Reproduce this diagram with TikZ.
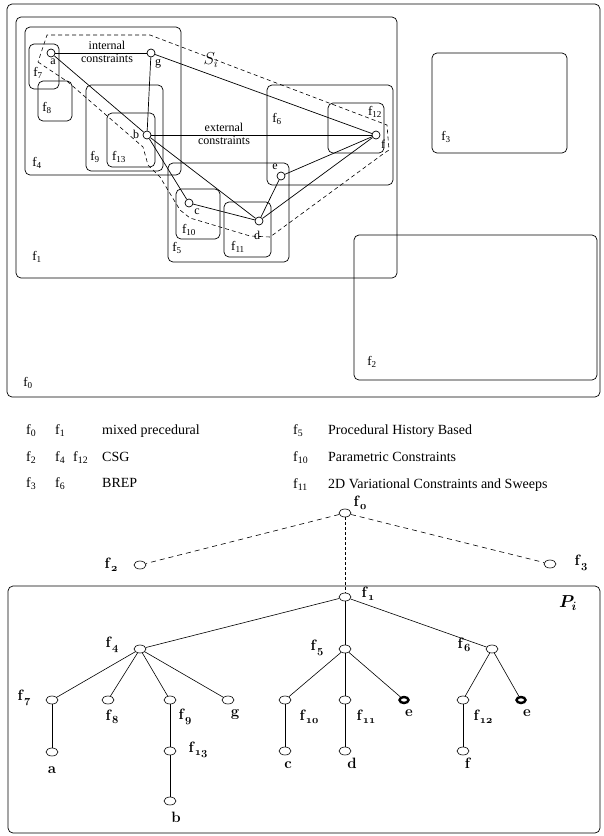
\documentclass[tikz,border=0pt]{standalone}
\usepackage{fontspec}
\newfontfamily\tms{Liberation Serif}
\usepackage{amsmath}
\usetikzlibrary{shapes.geometric}
\newcommand\fc[1]{f\textsubscript{#1}}
\newcommand\tf[1]{\textbf{f}\raisebox{-0.45ex}{\fontsize{11}{11}\usefont{OML}{cmm}{b}{it}#1}}

\begin{document}
\begin{tikzpicture}[
  x=1pt, y=-1pt,
  face/.style={draw, rounded corners=5pt, line width=0.7pt},
  flab/.style={font=\tms\fontsize{13}{15}\selectfont, inner sep=0pt},
  plab/.style={font=\tms\fontsize{12}{14}\selectfont, inner sep=0pt},
  vtx/.style={circle, draw, fill=white, minimum size=8pt, inner sep=0pt, line width=0.7pt},
  con/.style={line width=0.7pt},
  region/.style={dashed, dash pattern=on 4pt off 3pt, line width=0.6pt},
  tn/.style={ellipse, draw, fill=white, minimum width=12pt, minimum height=8pt, inner sep=0pt, line width=0.6pt},
  tsel/.style={ellipse, draw, fill=white, minimum width=9pt, minimum height=6pt, inner sep=0pt, line width=2.4pt},
  tlab/.style={font=\fontsize{15}{17}\selectfont, inner sep=0pt},
  tedge/.style={line width=0.6pt},
  opt/.style={line width=0.6pt, dash pattern=on 5pt off 4pt},
  leg/.style={font=\tms\fontsize{14}{16}\selectfont, anchor=base west, inner sep=0pt}
]
\useasboundingbox (0,0) rectangle (603,836);

% faces of the part
\draw[face] (7,4) rectangle (600,397);
\draw[face] (16,17) rectangle (397,278);
\draw[face] (25,27) rectangle (181,175);
\draw[face] (29,44) rectangle (59,89);
\draw[face] (38,81) rectangle (72,121);
\draw[face] (86,85) rectangle (163,171);
\draw[face] (107,113) rectangle (155,167);
\draw[face] (168,163) rectangle (289,262);
\draw[face] (176,189) rectangle (220,239);
\draw[face] (224,202) rectangle (271,257);
\draw[face] (267,85) rectangle (393,185);
\draw[face] (328,103) rectangle (384,153);
\draw[face] (432,53) rectangle (567,153);
\draw[face] (354,235) rectangle (597,380);

\node[flab] (l0) at (28,383) {\fc{0}};
\node[flab] (l1) at (37,257) {\fc{1}};
\node[flab] (l2) at (372,362) {\fc{2}};
\node[flab] (l3) at (446,137) {\fc{3}};
\node[flab] (l4) at (37,163) {\fc{4}};
\node[flab] (l5) at (177,248) {\fc{5}};
\node[flab] (l6) at (277,119) {\fc{6}};
\node[flab] (l7) at (38,73) {\fc{7}};
\node[flab] (l8) at (47,108) {\fc{8}};
\node[flab] (l9) at (95,157) {\fc{9}};
\node[flab] (l10) at (189,230) {\fc{10}};
\node[flab] (l11) at (238,247) {\fc{11}};
\node[flab] (l12) at (375,112) {\fc{12}};
\node[flab] (l13) at (119,157) {\fc{13}};

\draw[region] (38,62) -- (68,82) -- (143,147) -- (148,165) -- (160,177) -- (180,210)
  -- (190,218) -- (250,236) -- (270,237) -- (383,154) -- (389,150) -- (387,125)
  -- (150,35) -- (47,35) -- cycle;
\node[font=\fontsize{17}{19}\selectfont, inner sep=0pt] (si) at (211,60) {$S_i$};

\node[vtx] (a) at (51,53) {};
\node[vtx] (g) at (151,53) {};
\node[vtx] (b) at (147,135) {};
\node[vtx] (c) at (189,203) {};
\node[vtx] (d) at (259,221) {};
\node[vtx] (e) at (281,176) {};
\node[vtx] (f) at (376,135) {};
\node[plab] (la) at (53,62) {a};
\node[plab] (lg) at (158,64) {g};
\node[plab] (lb) at (136,134) {b};
\node[plab] (lc) at (197,212) {c};
\node[plab] (ld) at (257,235) {d};
\node[plab] (le) at (275,167) {e};
\node[plab] (lf) at (383,144) {f};

\draw[con] (a) -- (g);
\draw[con] (a) -- (b);
\draw[con] (g) -- (b);
\draw[con] (g) -- (f);
\draw[con] (b) -- (f);
\draw[con] (b) -- (c);
\draw[con] (b) -- (d);
\draw[con] (c) -- (d);
\draw[con] (d) -- (e);
\draw[con] (d) -- (f);
\draw[con] (e) -- (f);

\node[plab, align=center, font=\tms\fontsize{12}{13}\selectfont] (int) at (107,52) {internal\\constraints};
\node[plab, align=center, font=\tms\fontsize{12}{13}\selectfont] (ext) at (224,134) {external\\constraints};

% legend
\node[leg] (k0) at (26,434) {\fc{0}};
\node[leg] (k1) at (55,434) {\fc{1}};
\node[leg] (kt1) at (102,434) {mixed precedural};
\node[leg] (k2) at (26,461) {\fc{2}};
\node[leg] (k4) at (55,461) {\fc{4}};
\node[leg] (k12) at (73,461) {\fc{12}};
\node[leg] (kt2) at (102,461) {CSG};
\node[leg] (k3) at (26,487) {\fc{3}};
\node[leg] (k6) at (55,487) {\fc{6}};
\node[leg] (kt3) at (102,487) {BREP};
\node[leg] (k5) at (293,434) {\fc{5}};
\node[leg] (kt5) at (328,434) {Procedural History Based};
\node[leg] (k10) at (293,461) {\fc{10}};
\node[leg] (kt10) at (328,461) {Parametric Constraints};
\node[leg] (k11) at (293,488) {\fc{11}};
\node[leg] (kt11) at (328,488) {2D Variational Constraints and Sweeps};

% tree
\draw[face] (8,586) rectangle (600,833);
\node[font=\fontsize{17}{19}\selectfont, inner sep=0pt] (pi) at (568,603) {$\boldsymbol{P_i}$};

\node[tn] (t0) at (345,513) {};
\node[tn] (t2) at (140,565) {};
\node[tn] (t3) at (550,564) {};
\node[tn] (t1) at (345,597) {};
\node[tn] (t4) at (140,649) {};
\node[tn] (t5) at (345,649) {};
\node[tn] (t6) at (492,649) {};
\node[tn] (t7) at (52,700) {};
\node[tn] (t8) at (108,700) {};
\node[tn] (t9) at (170,700) {};
\node[tn] (tg) at (228,700) {};
\node[tn] (t10) at (285,700) {};
\node[tn] (t11) at (345,700) {};
\node[tsel] (te) at (404,700) {};
\node[tn] (t12) at (463,700) {};
\node[tsel] (tee) at (521,700) {};
\node[tn] (ta) at (52,752) {};
\node[tn] (t13) at (170,751) {};
\node[tn] (tc) at (285,751) {};
\node[tn] (td) at (345,751) {};
\node[tn] (tf) at (463,751) {};
\node[tn] (tb) at (170,801) {};

\node[tlab] (m0) at (360,503) {\tf{0}};
\node[tlab] (m2) at (111,565) {\tf{2}};
\node[tlab] (m3) at (581,563) {\tf{3}};
\node[tlab] (m1) at (368,594) {\tf{1}};
\node[tlab] (m4) at (112,645) {\tf{4}};
\node[tlab] (m5) at (317,648) {\tf{5}};
\node[tlab] (m6) at (464,645) {\tf{6}};
\node[tlab] (m7) at (24,698) {\tf{7}};
\node[tlab] (m8) at (112,717) {\tf{8}};
\node[tlab] (m9) at (185,717) {\tf{9}};
\node[tlab] (mg) at (235,715) {\textbf{g}};
\node[tlab] (m10) at (309,717) {\tf{10}};
\node[tlab] (m11) at (366,717) {\tf{11}};
\node[tlab] (me) at (409,713) {\textbf{e}};
\node[tlab] (m12) at (483,717) {\tf{12}};
\node[tlab] (mee) at (527,713) {\textbf{e}};
\node[tlab] (ma) at (52,770) {\textbf{a}};
\node[tlab] (m13) at (198,750) {\tf{13}};
\node[tlab] (mc) at (288,765) {\textbf{c}};
\node[tlab] (md) at (352,763) {\textbf{d}};
\node[tlab] (mf) at (468,763) {\textbf{f}};
\node[tlab] (mb) at (176,817) {\textbf{b}};

\draw[opt] (t0) -- (t2);
\draw[opt] (t0) -- (t3);
\draw[tedge, dash pattern=on 3pt off 2pt] (t0) -- (t1);
\draw[tedge] (t1) -- (t4);
\draw[tedge] (t1) -- (t5);
\draw[tedge] (t1) -- (t6);
\draw[tedge] (t4) -- (t7);
\draw[tedge] (t4) -- (t8);
\draw[tedge] (t4) -- (t9);
\draw[tedge] (t4) -- (tg);
\draw[tedge] (t7) -- (ta);
\draw[tedge] (t9) -- (t13);
\draw[tedge] (t13) -- (tb);
\draw[tedge] (t5) -- (t10);
\draw[tedge] (t5) -- (t11);
\draw[tedge] (t5) -- (te);
\draw[tedge] (t10) -- (tc);
\draw[tedge] (t11) -- (td);
\draw[tedge] (t6) -- (t12);
\draw[tedge] (t6) -- (tee);
\draw[tedge] (t12) -- (tf);
\end{tikzpicture}
\end{document}
